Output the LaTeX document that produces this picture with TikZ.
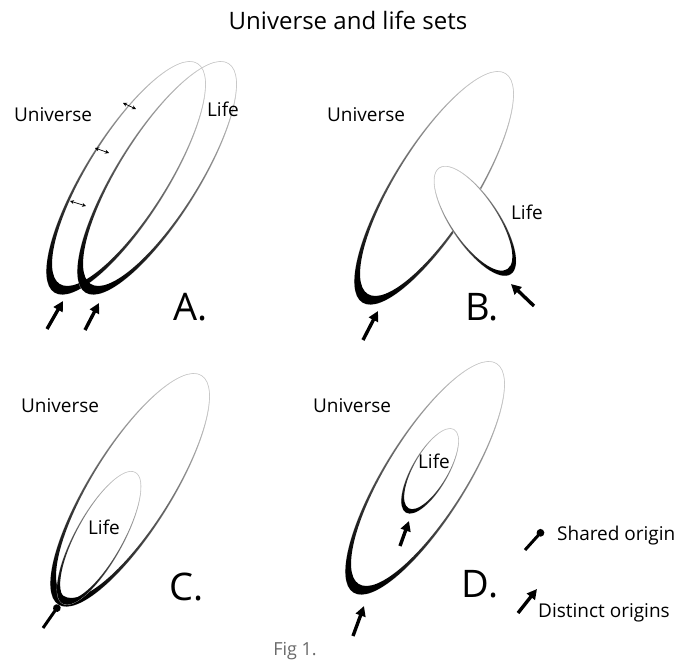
\documentclass[tikz,border=0pt]{standalone}
\usepackage{fontspec}
\setmainfont{Open Sans}
\usetikzlibrary{arrows.meta}
\definecolor{cInk}{RGB}{0,0,0}
\definecolor{cFade}{RGB}{200,200,200}
\definecolor{cCap}{RGB}{105,105,105}

% brush ring: [extra] {centre}{angle}{a}{b}{thickness}
% the inner ellipse is the outer one shrunk towards its far end
\newcommand{\brushring}[6][]{%
  \begin{scope}[shift={#2},rotate=#3]
    \draw[fade,#1] (0,0) ellipse [x radius=#4,y radius=#5];
    \shade[brush,shading angle=#3-90,even odd rule]
      (0,0) ellipse [x radius=#4,y radius=#5]
      (#6/2,0) ellipse [x radius=#4-#6/2,y radius=#5*(1-#6/(2*#4))];
  \end{scope}}

\begin{document}
\begin{tikzpicture}[
  x=1pt, y=-1pt, color=cInk,
  fade/.style  ={draw=cFade, line width=0.6pt},
  brush/.style ={bottom color=cInk, middle color=cInk, top color=cFade},
  lbl/.style   ={font=\fontsize{19}{22}\selectfont, inner sep=0pt},
  panel/.style ={font=\fontsize{38}{42}\selectfont, inner sep=0pt},
  distinct/.style={-{Triangle[length=10pt,width=10pt]}, line width=3.4pt},
  shared/.style  ={-{Circle[length=7.5pt]}, line width=3pt},
  gap/.style     ={{Stealth[length=4pt,width=4pt]}-{Stealth[length=4pt,width=4pt]}, line width=0.7pt},
]
\useasboundingbox (0,0) rectangle (678,664);

\node[font=\fontsize{24}{28}\selectfont, inner sep=0pt] (title) at (348,20) {Universe and life sets};

% ----- A: two universes side by side ------------------------------------
\brushring{(126,178)}{58}{135}{41}{10}
\brushring{(157,178)}{58}{135}{41}{10}
\draw[gap] (123,103) -- (136,109);
\draw[gap] (95,148) -- (109,153);
\draw[gap] (70,201) -- (86,206);
\node[lbl] (uniA)  at (53,115)  {Universe};
\node[lbl] (lifeA) at (223,109) {Life};
\node[panel] (A) at (191,307) {A.};
\coordinate (tA1) at (47,329); \coordinate (hA1) at (63,301);
\coordinate (tA2) at (85,330); \coordinate (hA2) at (99,303);
\draw[distinct] (tA1) -- (hA1);
\draw[distinct] (tA2) -- (hA2);

% ----- B: life sticks out of the universe --------------------------------
\brushring{(434,188)}{58}{135}{41}{10}
\brushring[fill=white]{(475,221)}{124}{64}{24}{6}
\node[lbl] (uniB)  at (366,115) {Universe};
\node[lbl] (lifeB) at (527,212) {Life};
\node[panel] (B) at (482,307) {B.};
\coordinate (tB1) at (363,340); \coordinate (hB1) at (378,311);
\coordinate (tB2) at (534,306); \coordinate (hB2) at (511,284);
\draw[distinct] (tB1) -- (hB1);
\draw[distinct] (tB2) -- (hB2);

% ----- C: life grows from the same origin --------------------------------
\brushring{(130,490)}{58}{135}{41}{10}
\brushring{(99,538)}{61}{75}{24}{6}
\node[lbl] (uniC)  at (60,406)  {Universe};
\node[lbl] (lifeC) at (104,527) {Life};
\node[panel] (C) at (187,587) {C.};
\coordinate (tC) at (43,628); \coordinate (hC) at (59,605);
\draw[shared] (tC) -- (hC);

% ----- D: life starts inside the universe --------------------------------
\brushring{(425,478)}{58}{135}{41}{10}
\brushring{(430,471)}{60}{48}{18}{5}
\node[lbl] (uniD)  at (352,406) {Universe};
\node[lbl] (lifeD) at (434,461) {Life};
\node[panel] (D) at (480,584) {D.};
\coordinate (tD1) at (353,636); \coordinate (hD1) at (364,606);
\coordinate (tD2) at (400,546); \coordinate (hD2) at (409,521);
\draw[distinct] (tD1) -- (hD1);
\draw[distinct] (tD2) -- (hD2);

% ----- legend ------------------------------------------------------------
\coordinate (tS) at (525,550); \coordinate (hS) at (543,530);
\draw[shared] (tS) -- (hS);
\node[lbl, anchor=west] (shr) at (557,536) {Shared origin};
\coordinate (tX) at (518,613); \coordinate (hX) at (537,589);
\draw[distinct] (tX) -- (hX);
\node[lbl, anchor=west] (dst) at (538,613) {Distinct origins};

\node[font=\fontsize{18}{20}\selectfont, text=cCap, inner sep=0pt] (fig) at (295,651) {Fig 1.};
\end{tikzpicture}
\end{document}
